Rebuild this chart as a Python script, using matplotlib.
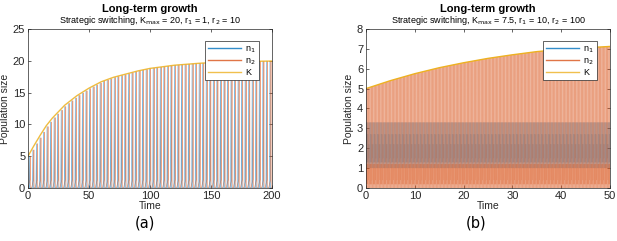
import numpy as np
import matplotlib.pyplot as plt
from matplotlib.collections import LineCollection

OUTPUT_PATH = "out.png"

# MATLAB default line colours
C_N1 = (0.0, 0.447, 0.741)
C_N2 = (0.850, 0.325, 0.098)
C_K = (0.929, 0.694, 0.125)

# carrying capacity K(t)
t_k_a = [0, 5, 10, 15, 20, 25, 30, 40, 50, 60, 70, 80, 90, 100, 120, 140, 160, 180, 200]
k_a = [5.0, 6.7, 8.3, 9.8, 11.0, 12.0, 13.0, 14.5, 15.7, 16.7, 17.4, 17.9, 18.4, 18.8,
       19.3, 19.6, 19.8, 19.9, 19.95]

t_k_b = [0, 5, 10, 15, 20, 25, 30, 35, 40, 45, 50]
k_b = [5.0, 5.4, 5.75, 6.05, 6.3, 6.52, 6.7, 6.86, 6.97, 7.05, 7.12]

# switching cycle length (time units) and the low levels visited in each cycle
# (None marks the sample that climbs to K)
PERIOD_A = 2.9
PERIOD_B = 0.16
N1_PHASE_A = [0.0, 0.25, 0.38, 0.5, 1.0]
N1_LEVEL_A = [0, 0, None, 0, 0]
N2_PHASE_A = [0.0, 0.55, 0.66, 0.74, 1.0]
N2_LEVEL_A = [0, 1.3, None, 0, 0]
N1_PHASE_B = [0.0, 0.17, 0.33, 0.5, 0.67, 0.83, 1.0]
N1_LEVEL_B = [1.0, 3.3, 1.3, 2.7, 1.5, 2.2, 1.0]
N2_PHASE_B = [0.0, 0.12, 0.24, 0.36, 0.48, 0.58, 0.66, 0.74, 1.0]
N2_LEVEL_B = [0, 1.2, 0.2, 1.0, 0.4, 0.9, None, 0, 0]


def cycles(t_k, k, period, phases, levels):
    """One segment list per switching cycle."""
    starts = np.arange(0, t_k[-1], period)
    segs = []
    for s in starts:
        kk = np.interp(s, t_k, k)
        seg = [(s + ph * period, kk if lv is None else lv) for ph, lv in zip(phases, levels)]
        segs.append(seg)
    return segs


def style_axes(ax, xlim, ylim, xticks, yticks):
    ax.set_xlim(*xlim)
    ax.set_ylim(*ylim)
    ax.set_xticks(xticks)
    ax.set_yticks(yticks)
    ax.tick_params(direction="in", length=2.5, width=0.5, labelsize=8,
                   colors=(0.15, 0.15, 0.15), top=True, right=True, pad=2)
    for sp in ax.spines.values():
        sp.set_color((0.15, 0.15, 0.15))
        sp.set_linewidth(0.5)
    ax.set_xlabel("Time", fontsize=7.5, labelpad=0, color=(0.15, 0.15, 0.15))
    ax.set_ylabel("Population size", fontsize=7.5, labelpad=2, color=(0.15, 0.15, 0.15))


def titles(ax, subtitle):
    ax.text(0.5, 1.095, "Long-term growth", transform=ax.transAxes, ha="center",
            va="bottom", fontsize=8, fontweight="bold")
    ax.text(0.5, 1.01, subtitle, transform=ax.transAxes, ha="center",
            va="bottom", fontsize=6.5)


def legend(ax):
    handles = [plt.Line2D([], [], color=c, lw=1.0, alpha=0.8) for c in (C_N1, C_N2, C_K)]
    leg = ax.legend(handles, ["n$_1$", "n$_2$", "K"], loc="upper right", fontsize=6.5,
                    frameon=True, fancybox=False, handlelength=3.6,
                    borderpad=0.35, labelspacing=0.15, handletextpad=0.5,
                    bbox_to_anchor=(0.965, 0.95))
    leg.get_frame().set_edgecolor((0.15, 0.15, 0.15))
    leg.get_frame().set_linewidth(0.5)
    leg.get_frame().set_alpha(1.0)


plt.rcParams["font.family"] = ["Liberation Sans", "DejaVu Sans"]
fig = plt.figure(figsize=(6.17, 2.41), dpi=100)

# (a)
ax = fig.add_axes([0.0454, 0.2199, 0.3955, 0.66])
ax.add_collection(LineCollection(cycles(t_k_a, k_a, PERIOD_A, N1_PHASE_A, N1_LEVEL_A),
                                 colors=[C_N1], linewidths=0.5, alpha=0.55))
ax.add_collection(LineCollection(cycles(t_k_a, k_a, PERIOD_A, N2_PHASE_A, N2_LEVEL_A),
                                 colors=[C_N2], linewidths=0.5, alpha=0.55))
ax.plot(t_k_a, k_a, color=C_K, lw=1.0, alpha=0.85)
style_axes(ax, (0, 200), (0, 25), range(0, 201, 50), range(0, 26, 5))
titles(ax, "Strategic switching, K$_{\\rm max}$ = 20, r$_1$ = 1, r$_2$ = 10")
legend(ax)
fig.text(0.235, 0.055, "(a)", ha="center", fontsize=10.5, family="DejaVu Sans")

# (b)
ax = fig.add_axes([0.5932, 0.2199, 0.3955, 0.66])
ax.add_collection(LineCollection(cycles(t_k_b, k_b, PERIOD_B, N1_PHASE_B, N1_LEVEL_B),
                                 colors=[C_N1], linewidths=0.35, alpha=0.3))
ax.add_collection(LineCollection(cycles(t_k_b, k_b, PERIOD_B, N2_PHASE_B, N2_LEVEL_B),
                                 colors=[C_N2], linewidths=0.4, alpha=0.42))
ax.plot(t_k_b, k_b, color=C_K, lw=1.0)
style_axes(ax, (0, 50), (0, 8), range(0, 51, 10), range(0, 9))
titles(ax, "Strategic switching, K$_{\\rm max}$ = 7.5, r$_1$ = 10, r$_2$ = 100")
legend(ax)
fig.text(0.772, 0.055, "(b)", ha="center", fontsize=10.5, family="DejaVu Sans")

fig.savefig(OUTPUT_PATH, dpi=100)
